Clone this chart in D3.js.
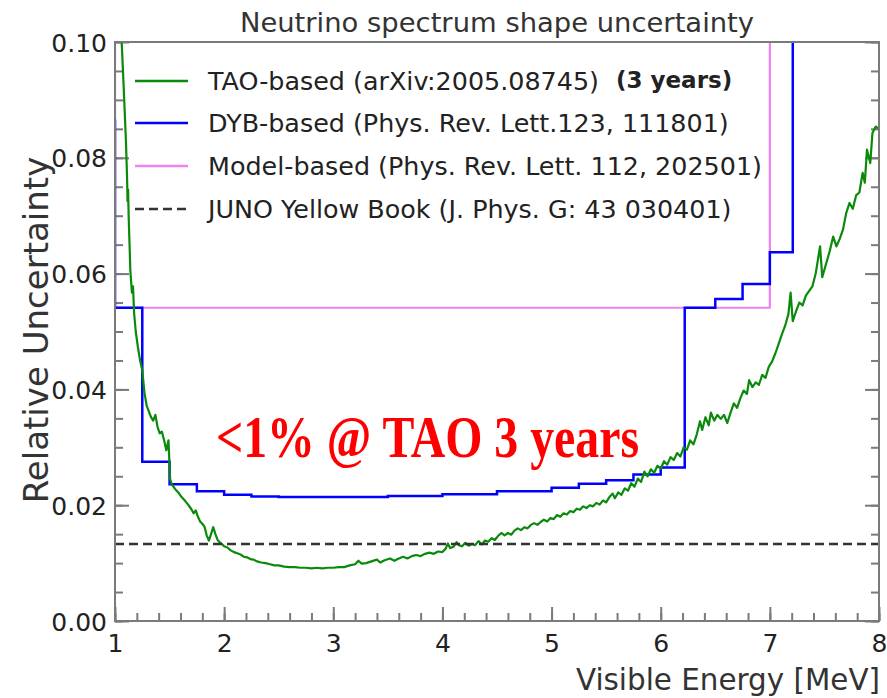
<!DOCTYPE html>
<html>
<head>
<meta charset="utf-8">
<script src="https://cdn.jsdelivr.net/npm/d3@7"></script>
<style>
  body { margin: 0; background: #fff; }
  svg { display: block; }
  text { font-family: "DejaVu Sans", sans-serif; fill: #222; }
</style>
</head>
<body>
<div id="chart"></div>
<script>
// axis ticks
var xMajor = [1, 2, 3, 4, 5, 6, 7, 8];
var yMajor = [0, 0.02, 0.04, 0.06, 0.08, 0.10];

// TAO-based curve [energy, relative uncertainty]
var taoPoints = [
  [1.06,0.1005],[1.08,0.092],[1.10,0.083],[1.11,0.077],[1.115,0.0725],[1.12,0.0745],[1.125,0.0700],
  [1.135,0.0640],[1.14,0.0607],[1.155,0.0567],[1.165,0.0578],[1.175,0.0532],[1.19,0.0500],[1.21,0.0473],
  [1.23,0.0450],[1.25,0.0433],[1.27,0.0394],[1.29,0.0372],[1.31,0.0362],[1.33,0.0352],[1.35,0.0346],
  [1.37,0.0356],[1.39,0.0335],[1.41,0.0324],[1.43,0.0327],[1.45,0.0312],[1.47,0.0295],[1.49,0.0312],
  [1.505,0.0245],[1.52,0.0236],[1.55,0.0228],[1.58,0.0222],[1.61,0.0214],[1.64,0.0208],[1.67,0.0201],
  [1.70,0.0193],[1.72,0.0186],[1.74,0.0191],[1.76,0.0180],[1.78,0.0172],[1.80,0.0168],[1.82,0.0163],
  [1.84,0.0148],[1.86,0.0139],[1.88,0.0150],[1.90,0.0162],[1.92,0.0150],[1.94,0.0140],[1.96,0.0136],
  [1.98,0.0133],[2.00,0.0129],[2.03,0.0127],[2.06,0.0122],[2.09,0.0119],[2.12,0.0117],[2.15,0.0115],
  [2.18,0.0111],[2.21,0.0110],[2.24,0.0107],[2.27,0.0106],[2.30,0.0103],[2.34,0.0101],[2.38,0.0100],
  [2.42,0.0098],[2.46,0.0096],[2.50,0.0096],[2.55,0.0094],[2.60,0.0093],[2.65,0.0093],[2.70,0.0092],
  [2.75,0.0092],[2.80,0.0091],[2.85,0.0092],[2.90,0.0091],[2.95,0.0092],[3.00,0.0092],[3.05,0.0093],
  [3.10,0.0093],[3.15,0.0096],[3.20,0.0098],[3.23,0.0104],[3.26,0.0099],[3.30,0.0100],[3.35,0.0103],
  [3.40,0.0106],[3.43,0.0101],[3.47,0.0105],[3.52,0.0108],[3.56,0.0104],[3.60,0.0108],[3.64,0.0111],
  [3.68,0.0108],[3.72,0.0112],[3.76,0.0114],[3.80,0.0112],[3.84,0.0116],[3.88,0.0118],[3.92,0.0116],
  [3.96,0.0120],[4.00,0.0119],[4.03,0.0125],[4.05,0.0134],[4.07,0.0126],[4.10,0.0128],[4.13,0.0136],
  [4.15,0.0131],[4.18,0.0129],[4.21,0.0135],[4.24,0.0130],[4.27,0.0133],[4.30,0.0131],[4.33,0.0138],
  [4.36,0.0132],[4.39,0.0139],[4.42,0.0137],[4.45,0.0143],[4.48,0.0140],[4.51,0.0147],[4.54,0.0152],
  [4.57,0.0148],[4.60,0.0152],[4.63,0.0149],[4.66,0.0156],[4.69,0.0160],[4.72,0.0157],[4.75,0.0162],
  [4.78,0.0160],[4.81,0.0166],[4.84,0.0169],[4.87,0.0166],[4.90,0.0171],[4.93,0.0175],[4.96,0.0172],
  [4.99,0.0178],[5.02,0.0176],[5.05,0.0183],[5.08,0.0180],[5.11,0.0186],[5.14,0.0184],[5.17,0.0190],
  [5.20,0.0188],[5.23,0.0194],[5.26,0.0192],[5.29,0.0198],[5.32,0.0195],[5.35,0.0200],[5.38,0.0198],
  [5.41,0.0204],[5.44,0.0201],[5.47,0.0208],[5.50,0.0205],[5.53,0.0214],[5.56,0.0220],[5.58,0.0212],
  [5.61,0.0222],[5.64,0.0218],[5.67,0.0229],[5.70,0.0225],[5.73,0.0238],[5.76,0.0232],[5.79,0.0246],
  [5.82,0.0240],[5.85,0.0258],[5.88,0.0250],[5.91,0.0262],[5.94,0.0256],[5.97,0.0268],[6.00,0.0263],
  [6.03,0.0276],[6.06,0.0270],[6.09,0.0283],[6.12,0.0278],[6.15,0.0290],[6.18,0.0284],[6.21,0.0300],
  [6.24,0.0296],[6.27,0.0312],[6.30,0.0305],[6.33,0.0322],[6.36,0.0345],[6.38,0.0330],[6.41,0.0352],
  [6.44,0.0338],[6.46,0.0360],[6.49,0.0346],[6.52,0.0356],[6.55,0.0349],[6.58,0.0356],[6.61,0.0342],
  [6.64,0.0360],[6.67,0.0376],[6.70,0.0368],[6.73,0.0385],[6.76,0.0398],[6.79,0.0392],[6.81,0.0416],
  [6.84,0.0404],[6.87,0.0412],[6.90,0.0408],[6.93,0.0425],[6.96,0.0420],[6.99,0.0439],[7.02,0.0448],
  [7.05,0.0462],[7.08,0.0478],[7.11,0.0495],[7.14,0.0510],[7.17,0.0530],[7.19,0.0567],[7.21,0.0518],
  [7.24,0.0535],[7.27,0.0550],[7.30,0.0545],[7.33,0.0562],[7.36,0.0570],[7.39,0.0578],[7.42,0.0600],
  [7.46,0.0647],[7.48,0.0594],[7.52,0.0620],[7.55,0.0640],[7.58,0.0664],[7.61,0.0647],[7.64,0.0660],
  [7.67,0.0676],[7.70,0.0705],[7.73,0.0722],[7.76,0.0712],[7.79,0.0735],[7.82,0.0740],[7.85,0.0774],
  [7.87,0.0757],[7.89,0.0814],[7.92,0.0791],[7.94,0.0843],[7.97,0.0854],[8.00,0.0850]
];

// DYB-based steps (value holds until next edge)
var dybEdges  = [1.0, 1.0, 1.25, 1.5, 1.75, 2.0, 2.25, 2.5, 3.5, 4.0, 4.5, 5.0, 5.25, 5.5, 5.75, 6.0, 6.22, 6.5, 6.75, 7.0, 7.21, 7.21];
var dybValues = [0.0866, 0.0541, 0.0275, 0.0236, 0.0224, 0.0218, 0.0215, 0.0214, 0.0216, 0.0219, 0.0224, 0.0230, 0.0237, 0.0243, 0.0253, 0.0265, 0.0541, 0.0556, 0.0582, 0.0637, 0.0637, 0.11];

// Model-based
var modelEdges  = [1.0, 1.0, 7.0, 7.0];
var modelValues = [0.11, 0.0541, 0.0541, 0.11];

// JUNO Yellow Book level
var junoLevel = 0.0133;

var legendLabels = [
  "TAO-based (arXiv:2005.08745)",
  "DYB-based (Phys. Rev. Lett.123, 111801)",
  "Model-based (Phys. Rev. Lett. 112, 202501)",
  "JUNO Yellow Book (J. Phys. G: 43 030401)"
];
var legendColors = ["#0a8a0a", "#0000ff", "#ee82ee", "#333"];

var width = 887, height = 698;
var x = d3.scaleLinear().domain([1, 8]).range([115, 879]);
var y = d3.scaleLinear().domain([0, 0.10]).range([621, 42]);

var svg = d3.select("#chart").append("svg")
  .attr("width", width)
  .attr("height", height);

svg.append("clipPath").attr("id", "plot")
  .append("rect")
  .attr("x", x(1)).attr("y", y(0.10))
  .attr("width", x(8) - x(1)).attr("height", y(0) - y(0.10));

var frameColor = "#7a7a7a";

// ticks: major + minor on bottom, left, right, all pointing inward
function tickAxis(axis, pos, vals, size, fmt) {
  var g = svg.append("g")
    .attr("transform", pos)
    .call(axis.tickValues(vals).tickSize(size).tickSizeOuter(0).tickFormat(fmt || ""));
  g.select(".domain").remove();
  g.selectAll(".tick line").attr("stroke", frameColor).attr("stroke-width", 2);
  return g;
}

var xMinor = d3.range(1, 8.001, 0.2);
var yMinor = d3.range(0, 0.1001, 0.005);

tickAxis(d3.axisBottom(x), "translate(0," + y(0) + ")", xMinor, -8);
var gx = tickAxis(d3.axisBottom(x), "translate(0," + y(0) + ")", xMajor, -14, d3.format("d"));
gx.selectAll(".tick text").attr("dy", 0).attr("y", 31).style("font-size", "25px").style("fill", "#222");

tickAxis(d3.axisLeft(y), "translate(" + x(1) + ",0)", yMinor, -8);
var gy = tickAxis(d3.axisLeft(y), "translate(" + x(1) + ",0)", yMajor, -14, d3.format(".2f"));
gy.selectAll(".tick text").attr("x", -8).attr("dy", "0.36em").style("font-size", "25px").style("fill", "#222");

tickAxis(d3.axisRight(y), "translate(" + x(8) + ",0)", yMinor, -8);
tickAxis(d3.axisRight(y), "translate(" + x(8) + ",0)", yMajor, -14);

// curves
var plot = svg.append("g").attr("clip-path", "url(#plot)");

var stepLine = d3.line().x(function(d) { return x(d[0]); }).y(function(d) { return y(d[1]); }).curve(d3.curveStepAfter);
var plainLine = d3.line().x(function(d) { return x(d[0]); }).y(function(d) { return y(d[1]); });

plot.append("path")
  .attr("d", plainLine(d3.zip(modelEdges, modelValues)))
  .attr("fill", "none").attr("stroke", legendColors[2]).attr("stroke-width", 2.2);

plot.append("path")
  .attr("d", stepLine(d3.zip(dybEdges, dybValues)))
  .attr("fill", "none").attr("stroke", legendColors[1]).attr("stroke-width", 2.5);

plot.append("path")
  .attr("d", plainLine(taoPoints))
  .attr("fill", "none").attr("stroke", legendColors[0]).attr("stroke-width", 2.2)
  .attr("stroke-linejoin", "round");

plot.append("line")
  .attr("x1", x(1)).attr("x2", x(8))
  .attr("y1", y(junoLevel)).attr("y2", y(junoLevel))
  .attr("stroke", legendColors[3]).attr("stroke-width", 2.5)
  .attr("stroke-dasharray", "9,5");

// frame
svg.append("rect")
  .attr("x", x(1)).attr("y", y(0.10))
  .attr("width", x(8) - x(1)).attr("height", y(0) - y(0.10))
  .attr("fill", "none").attr("stroke", frameColor).attr("stroke-width", 2);

// legend
var legend = svg.append("g");
var rowY = [81, 123, 166, 209];
legendLabels.forEach(function(label, i) {
  legend.append("line")
    .attr("x1", 135).attr("x2", 188)
    .attr("y1", rowY[i]).attr("y2", rowY[i])
    .attr("stroke", legendColors[i]).attr("stroke-width", 2.5)
    .attr("stroke-dasharray", i == 3 ? "9,5" : null);
  legend.append("text")
    .attr("x", 208).attr("y", rowY[i] + 9)
    .style("font-size", "25.4px")
    .text(label);
});
legend.append("text")
  .attr("x", 616).attr("y", 88)
  .style("font-size", "23px").style("font-weight", "bold")
  .text("(3 years)");

// titles
svg.append("text")
  .attr("x", 497).attr("y", 32)
  .attr("text-anchor", "middle")
  .style("font-size", "27.4px").style("fill", "#333")
  .text("Neutrino spectrum shape uncertainty");

svg.append("text")
  .attr("transform", "translate(48,330) rotate(-90)")
  .attr("text-anchor", "middle")
  .style("font-size", "34px").style("fill", "#333")
  .text("Relative Uncertainty");

svg.append("text")
  .attr("x", 880).attr("y", 690)
  .attr("text-anchor", "end")
  .style("font-size", "29.4px").style("fill", "#333")
  .text("Visible Energy [MeV]");

// annotation
svg.append("text")
  .attr("x", 216).attr("y", 457)
  .attr("textLength", 423).attr("lengthAdjust", "spacingAndGlyphs")
  .style("font-family", "'Liberation Serif', 'Times New Roman', serif")
  .style("font-weight", "bold").style("font-size", "60px").style("fill", "#ff0000")
  .text("<1% @ TAO 3 years");
</script>
</body>
</html>
